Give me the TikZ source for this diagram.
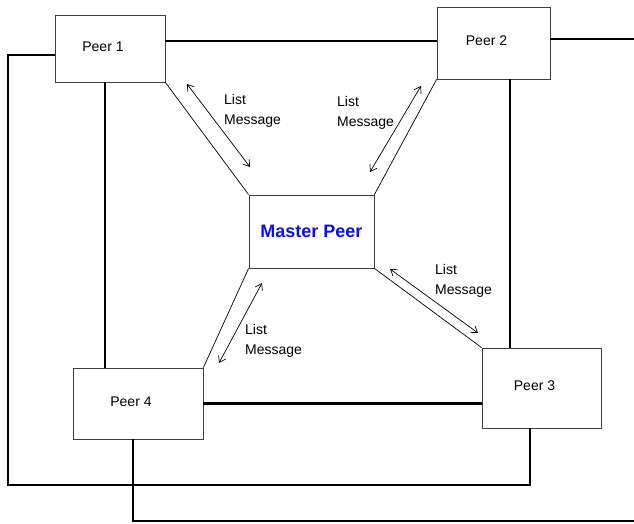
\documentclass[tikz,border=0pt]{standalone}
\usepackage{fontspec}
\setmainfont{Liberation Sans}
\usetikzlibrary{arrows.meta}
\definecolor{masterblue}{RGB}{15,15,235}
\tikzset{
  peer/.style={draw=black!75, line width=0.8pt, fill=white},
  peertext/.style={font=\fontsize{14}{17}\selectfont, xshift=-7pt, yshift=2pt},
  link/.style={line width=2.2pt},
  conn/.style={line width=0.7pt},
  msg/.style={line width=0.7pt, {Straight Barb[length=6pt,width=8pt]}-{Straight Barb[length=6pt,width=8pt]}},
  msglabel/.style={anchor=west, align=left, inner sep=0pt, font=\fontsize{14}{19.5}\selectfont}
}
\begin{document}
\begin{tikzpicture}[x=1pt, y=-1pt]
    \useasboundingbox (0,0) rectangle (634,523);

    \node[peer, minimum width=110pt, minimum height=67pt, label={[peertext]center:Peer 1}] (p1) at (110,48.5) {};
    \node[peer, minimum width=113pt, minimum height=72pt, label={[peertext]center:Peer 2}] (p2) at (493.5,43) {};
    \node[peer, minimum width=119pt, minimum height=80pt, label={[peertext]center:Peer 3}] (p3) at (541.5,388) {};
    \node[peer, minimum width=130pt, minimum height=71pt, label={[peertext]center:Peer 4}] (p4) at (138,403.5) {};
    \node[peer, minimum width=125pt, minimum height=73pt, font=\fontsize{18}{20}\selectfont\bfseries,
          text=masterblue] (m) at (311.5,231.5) {Master Peer};

    \coordinate (e2) at (634,39);
    \coordinate (e4) at (634,521);
    \coordinate (c1) at (8,485);

    \draw[link] ([yshift=7.5pt]p1.east) -- ([yshift=7.5pt]p1.east -| p2.west);
    \draw[link] ([yshift=4pt]p2.east) -- (e2);
    \draw[link] ([yshift=-6.5pt]p1.west) -| (c1) -| ([xshift=-11.5pt]p3.south);
    \draw[link] ([xshift=-5pt]p1.south) -- ([xshift=-5pt]p1.south |- p4.north);
    \draw[link] ([xshift=16.5pt]p2.south) -- ([xshift=16.5pt]p2.south |- p3.north);
    \draw[link] (p4.east) -- (p4.east -| p3.west);
    \draw[link] ([xshift=-5pt]p4.south) |- (e4);

    \draw[conn] (p1.south east) -- (m.north west);
    \draw[conn] (p2.south west) -- (m.north east);
    \draw[conn] (m.south west) -- (p4.north east);
    \draw[conn] (m.south east) -- (p3.north west);

    \foreach \xa/\ya/\xb/\yb in {187/84/250/167, 421/86/370/172, 262/283/219/363, 390/269/478/333}
        \draw[msg] (\xa,\ya) -- (\xb,\yb);
    \foreach \x/\y [count=\i] in {224/111, 337/113, 245/341, 435/281}
        \node[msglabel] (msg\i) at (\x,\y) {List\\Message};

\end{tikzpicture}
\end{document}
